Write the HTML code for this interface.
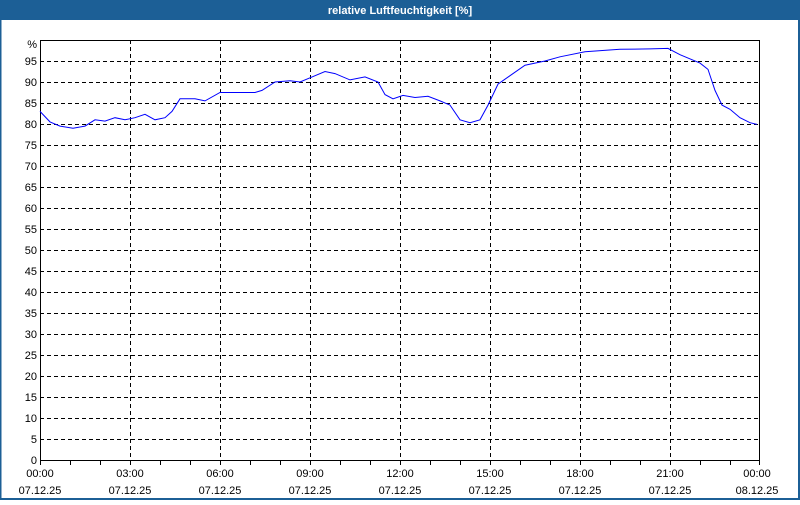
<!DOCTYPE html>
<html><head><meta charset="utf-8"><style>
body{margin:0;width:800px;height:500px;overflow:hidden;background:#fff;font-family:"Liberation Sans",sans-serif}
</style></head><body>
<svg width="800" height="500" xmlns="http://www.w3.org/2000/svg" font-family="Liberation Sans, sans-serif" font-size="11">
<rect x="0" y="0" width="800" height="500" fill="#fff"/>
<rect x="0" y="0" width="800" height="20" fill="#1c5f96"/>
<rect x="0" y="0" width="1.5" height="500" fill="#1c5f96"/>
<rect x="798" y="0" width="2" height="500" fill="#1c5f96"/>
<rect x="0" y="498" width="800" height="2" fill="#1c5f96"/>
<text x="400" y="14" fill="#fff" font-weight="bold" text-anchor="middle">relative Luftfeuchtigkeit [%]</text>
<g stroke="#000" stroke-width="1" stroke-dasharray="4,3" shape-rendering="crispEdges">
<line x1="40" x2="760" y1="61.5" y2="61.5"/><line x1="40" x2="760" y1="82.5" y2="82.5"/><line x1="40" x2="760" y1="103.5" y2="103.5"/><line x1="40" x2="760" y1="124.5" y2="124.5"/><line x1="40" x2="760" y1="145.5" y2="145.5"/><line x1="40" x2="760" y1="166.5" y2="166.5"/><line x1="40" x2="760" y1="187.5" y2="187.5"/><line x1="40" x2="760" y1="208.5" y2="208.5"/><line x1="40" x2="760" y1="229.5" y2="229.5"/><line x1="40" x2="760" y1="250.5" y2="250.5"/><line x1="40" x2="760" y1="271.5" y2="271.5"/><line x1="40" x2="760" y1="292.5" y2="292.5"/><line x1="40" x2="760" y1="313.5" y2="313.5"/><line x1="40" x2="760" y1="334.5" y2="334.5"/><line x1="40" x2="760" y1="355.5" y2="355.5"/><line x1="40" x2="760" y1="376.5" y2="376.5"/><line x1="40" x2="760" y1="397.5" y2="397.5"/><line x1="40" x2="760" y1="418.5" y2="418.5"/><line x1="40" x2="760" y1="439.5" y2="439.5"/>
<line x1="130.5" x2="130.5" y1="40" y2="460"/><line x1="220.5" x2="220.5" y1="40" y2="460"/><line x1="310.5" x2="310.5" y1="40" y2="460"/><line x1="400.5" x2="400.5" y1="40" y2="460"/><line x1="490.5" x2="490.5" y1="40" y2="460"/><line x1="580.5" x2="580.5" y1="40" y2="460"/><line x1="670.5" x2="670.5" y1="40" y2="460"/>
</g>
<rect x="40.5" y="40.5" width="719" height="420" fill="none" stroke="#000" shape-rendering="crispEdges"/>
<g stroke="#000" shape-rendering="crispEdges">
<line x1="40.5" x2="40.5" y1="460" y2="465"/><line x1="70.5" x2="70.5" y1="460" y2="465"/><line x1="100.5" x2="100.5" y1="460" y2="465"/><line x1="130.5" x2="130.5" y1="460" y2="465"/><line x1="160.5" x2="160.5" y1="460" y2="465"/><line x1="190.5" x2="190.5" y1="460" y2="465"/><line x1="220.5" x2="220.5" y1="460" y2="465"/><line x1="250.5" x2="250.5" y1="460" y2="465"/><line x1="280.5" x2="280.5" y1="460" y2="465"/><line x1="310.5" x2="310.5" y1="460" y2="465"/><line x1="340.5" x2="340.5" y1="460" y2="465"/><line x1="370.5" x2="370.5" y1="460" y2="465"/><line x1="400.5" x2="400.5" y1="460" y2="465"/><line x1="430.5" x2="430.5" y1="460" y2="465"/><line x1="460.5" x2="460.5" y1="460" y2="465"/><line x1="490.5" x2="490.5" y1="460" y2="465"/><line x1="520.5" x2="520.5" y1="460" y2="465"/><line x1="550.5" x2="550.5" y1="460" y2="465"/><line x1="580.5" x2="580.5" y1="460" y2="465"/><line x1="610.5" x2="610.5" y1="460" y2="465"/><line x1="640.5" x2="640.5" y1="460" y2="465"/><line x1="670.5" x2="670.5" y1="460" y2="465"/><line x1="700.5" x2="700.5" y1="460" y2="465"/><line x1="730.5" x2="730.5" y1="460" y2="465"/><line x1="759.5" x2="759.5" y1="460" y2="465"/>
</g>
<g text-anchor="end" fill="#000">
<text x="37" y="48">%</text><text x="37" y="65">95</text><text x="37" y="86">90</text><text x="37" y="107">85</text><text x="37" y="128">80</text><text x="37" y="149">75</text><text x="37" y="170">70</text><text x="37" y="191">65</text><text x="37" y="212">60</text><text x="37" y="233">55</text><text x="37" y="254">50</text><text x="37" y="275">45</text><text x="37" y="296">40</text><text x="37" y="317">35</text><text x="37" y="338">30</text><text x="37" y="359">25</text><text x="37" y="380">20</text><text x="37" y="401">15</text><text x="37" y="422">10</text><text x="37" y="443">5</text><text x="37" y="464">0</text>
</g>
<g text-anchor="middle" fill="#000">
<text x="40" y="477">00:00</text><text x="130" y="477">03:00</text><text x="220" y="477">06:00</text><text x="310" y="477">09:00</text><text x="400" y="477">12:00</text><text x="490" y="477">15:00</text><text x="580" y="477">18:00</text><text x="670" y="477">21:00</text><text x="757" y="477">00:00</text>
<text x="40" y="494">07.12.25</text><text x="130" y="494">07.12.25</text><text x="220" y="494">07.12.25</text><text x="310" y="494">07.12.25</text><text x="400" y="494">07.12.25</text><text x="490" y="494">07.12.25</text><text x="580" y="494">07.12.25</text><text x="670" y="494">07.12.25</text><text x="757" y="494">08.12.25</text>
</g>
<polyline fill="none" stroke="#0000ff" stroke-width="1" points="40,111.4 50,121.9 60,126.1 73,128.2 85,126.1 95,119.8 105,121.1 115,117.7 125,119.8 135,117.7 145,114.3 155,119.8 165,117.7 172,111.4 180,98.8 195,98.8 205,100.9 220,92.5 255,92.5 262,90.4 275,82 290,80.7 300,82 310,77.8 325,71.5 335,73.6 350,79.9 365,76.9 378,82 385,94.6 393,98.8 403,95.4 415,97.5 428,96.3 440,100.9 450,105.1 460,119.8 470,122.7 480,119.8 488,105.1 498,84.1 510,75.7 525,65.2 545,61 560,56.8 585,51.8 620,49.3 650,48.9 668,48.4 680,54.7 700,63.1 708,69.4 715,90.4 722,105.1 730,109.3 740,117.7 750,122.7 757,124.4"/>
</svg>
</body></html>
